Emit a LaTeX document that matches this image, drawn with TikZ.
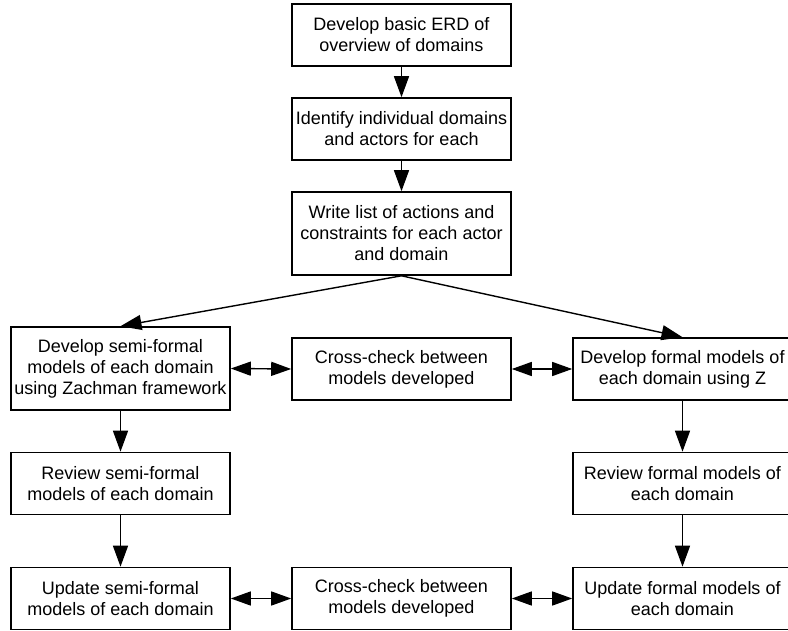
\documentclass[tikz,border=0pt]{standalone}
\usepackage{fontspec}
\setmainfont{Liberation Sans}
\usetikzlibrary{arrows.meta,positioning}

\tikzset{
  box/.style={draw,line width=1.6pt,minimum width=219pt,minimum height=62pt,
    align=center,inner sep=2pt,font=\fontsize{18}{21}\selectfont},
  tallbox/.style={box,minimum height=83pt},
  arr/.style={-{Triangle[length=21pt,width=15pt]},line width=1.4pt},
  biarr/.style={{Triangle[length=20pt,width=14pt]}-{Triangle[length=20pt,width=14pt]},line width=1.4pt}
}

\begin{document}
\begin{tikzpicture}[x=1pt,y=-1pt]
  \useasboundingbox (0,0) rectangle (788,631);
  %% ---- top column ----
  \node[box] (erd) at (401.5,35) {Develop basic ERD of\\overview of domains};
  \node[box] (ident) at (401.5,129) {Identify individual domains\\and actors for each};
  \node[tallbox] (actions) at (401.5,233.5) {Write list of actions and\\constraints for each actor\\and domain};
  \draw[arr] (erd) -- (ident);
  \draw[arr] (ident) -- (actions);

  %% ---- develop row ----
  \node[tallbox] (semiDev) at (120.5,368.5) {Develop semi-formal\\models of each domain\\using Zachman framework};
  \node[box] (crossTop) at (401.5,369) {Cross-check between\\models developed};
  \node[box] (formalDev) at (682.5,369) {Develop formal models of\\each domain using Z};
  \draw[arr] (actions.south) -- (semiDev.north);
  \draw[arr] (actions.south) -- (formalDev.north);
  \draw[biarr] (semiDev.east) -- (crossTop.west);
  \draw[biarr] (crossTop.east) -- (formalDev.west);

  %% ---- review row ----
  \node[box] (semiRev) at (120.5,483.5) {Review semi-formal\\models of each domain};
  \node[box] (formalRev) at (682.5,483.5) {Review formal models of\\each domain};
  \draw[arr] (semiDev) -- (semiRev);
  \draw[arr] (formalDev) -- (formalRev);

  %% ---- update row ----
  \node[box] (semiUpd) at (120.5,598.5) {Update semi-formal\\models of each domain};
  \node[box] (crossBot) at (401.5,598.5) {Cross-check between\\models developed};
  \node[box] (formalUpd) at (682.5,598.5) {Update formal models of\\each domain};
  \draw[arr] (semiRev) -- (semiUpd);
  \draw[arr] (formalRev) -- (formalUpd);
  \draw[biarr] (semiUpd) -- (crossBot);
  \draw[biarr] (crossBot) -- (formalUpd);
\end{tikzpicture}
\end{document}
